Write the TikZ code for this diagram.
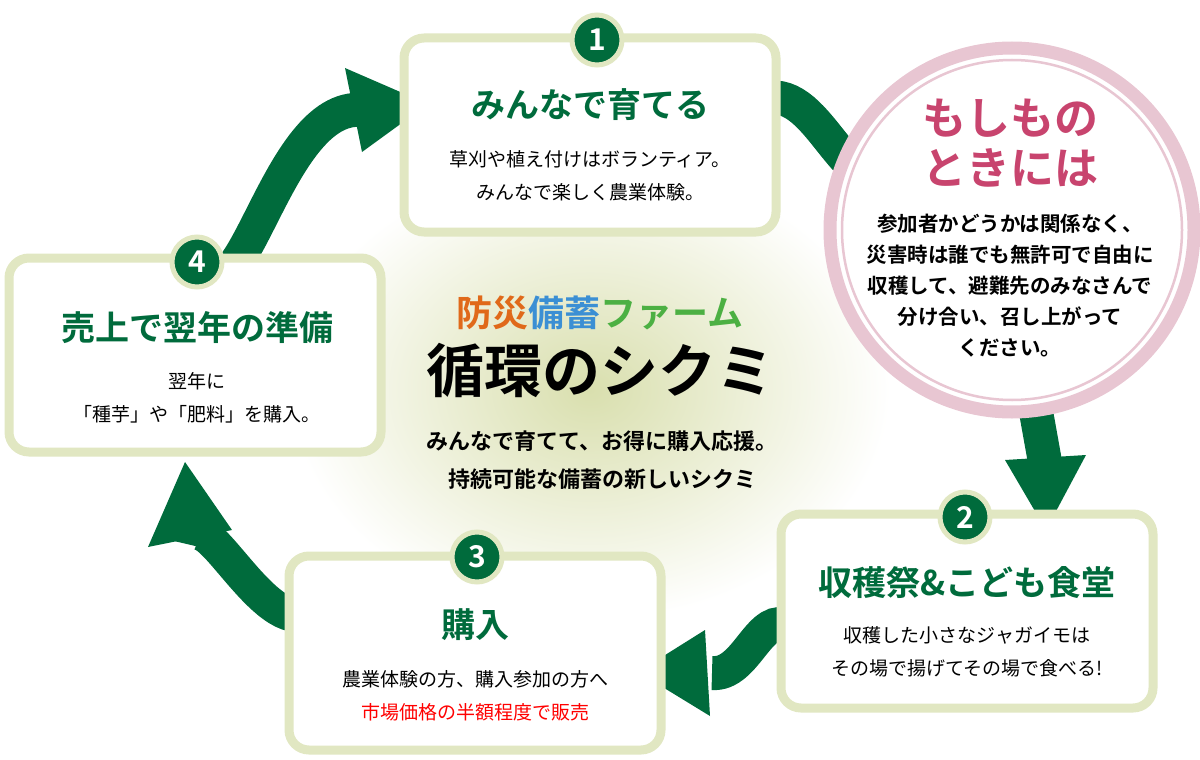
\documentclass[tikz,border=0pt]{standalone}
\usepackage{fontspec}
\setmainfont{Noto Sans CJK JP}[BoldFont={* Bold}]
\usetikzlibrary{positioning}
\definecolor{farmgreen}{HTML}{006B3C}
\definecolor{frame}{HTML}{E1E7C2}
\definecolor{glow}{HTML}{D9DFAE}
\definecolor{ringpink}{HTML}{E8C6D2}
\definecolor{titlepink}{HTML}{C8446E}
\definecolor{bosai}{HTML}{E0691A}
\definecolor{bichiku}{HTML}{3B8FD4}
\definecolor{farm}{HTML}{4CB043}
\tikzset{
  step/.style={draw=frame, line width=9pt, fill=white, rounded corners=20pt,
    minimum width=#1, minimum height=194pt, inner sep=0pt},
  step/.default=372pt,
  flow/.style={draw=farmgreen, line width=34pt},
  arrowhead/.style={fill=farmgreen},
  badge/.style={circle, fill=farmgreen, draw=frame, line width=5pt,
    minimum size=50pt, text=white, font=\bfseries\fontsize{30}{30}\selectfont, inner sep=0pt},
  head/.style={text=farmgreen, font=\bfseries\fontsize{34}{36}\selectfont},
  body/.style={align=center, font=\fontsize{19}{33}\selectfont},
}
\begin{document}
\begin{tikzpicture}[x=1pt,y=-1pt]
\useasboundingbox (0,0) rectangle (1200,760);
% glow behind the title
\shade[inner color=glow, outer color=white] (590,390) ellipse (300pt and 230pt);

% cycle arrows
\coordinate (tip41) at (428,104);
\coordinate (tip34) at (185,462);
\coordinate (tip23) at (638,672);
\coordinate (tipc2) at (1046,530);
\coordinate (end41) at (362,110);
\coordinate (end34) at (191,545);
\coordinate (end23) at (712,673);
\coordinate (endc2) at (1045,462);
\draw[flow] (200,262) to[out=-62,in=175] (end41);
\fill[arrowhead] (345,68) -- (tip41) -- (362,152) -- cycle;
\draw[flow] (760,100) to[out=20,in=200] (900,180);
\draw[flow] (1033,395) -- (endc2);
\fill[arrowhead] (1005,460) -- (tipc2) -- (1086,455) -- cycle;
\draw[flow] (790,627) to[out=150,in=-5] (end23);
\fill[arrowhead] (705,630) -- (tip23) -- (710,716) -- cycle;
\draw[flow] (310,612) to[out=210,in=80] (end34);
\fill[arrowhead] (148,547) -- (tip34) -- (232,530) -- cycle;

% boxes
\node[step] (one) at (590,135) {};
\node[step] (four) at (195,355) {};
\node[step] (two) at (967,611) {};
\node[step] (three) at (475,653) {};

% emergency circle
\node[circle, draw=ringpink, line width=13pt, fill=white, minimum size=364pt] (ring) at (1012,230) {};
\draw[ringpink, line width=2.5pt] (ring.center) circle (170pt);

% badges
\node[badge] (b1) at (597,40) {1};
\node[badge] (b4) at (197,262) {4};
\node[badge] (b2) at (965,517) {2};
\node[badge] (b3) at (477,557) {3};

% texts
\node[head] (h1) at (590,105) {みんなで育てる};
\node[body] (t1) at (590,176) {草刈や植え付けはボランティア。\\みんなで楽しく農業体験。};
\node[head] (h4) at (197,328) {売上で翌年の準備};
\node[body] (t4) at (197,398) {翌年に\\「種芋」や「肥料」を購入。};
\node[head] (h2) at (967,583) {収穫祭\&こども食堂};
\node[body] (t2) at (967,652) {収穫した小さなジャガイモは\\その場で揚げてその場で食べる!};
\node[head] (h3) at (475,625) {購入};
\node[body] (t3) at (475,696) {農業体験の方、購入参加の方へ\\\textcolor{red}{市場価格の半額程度で販売}};
\node[text=titlepink, align=center, font=\bfseries\fontsize{44}{50}\selectfont] (hc) at (1010,143) {もしもの\\ときには};
\node[align=center, font=\bfseries\fontsize{20.5}{31}\selectfont] (tc) at (1010,286) {参加者かどうかは関係なく、\\災害時は誰でも無許可で自由に\\収穫して、避難先のみなさんで\\分け合い、召し上がって\\ください。};

\node[font=\bfseries\fontsize{36}{40}\selectfont] (farmname) at (600,313) {\textcolor{bosai}{防災}\textcolor{bichiku}{備蓄}\textcolor{farm}{ファーム}};
\node[font=\bfseries\fontsize{58}{62}\selectfont, below=6pt of farmname] (shikumi) {循環のシクミ};
\node[align=center, font=\bfseries\fontsize{22}{38}\selectfont] (sub) at (602,460) {みんなで育てて、お得に購入応援。\\持続可能な備蓄の新しいシクミ};
\end{tikzpicture}
\end{document}
